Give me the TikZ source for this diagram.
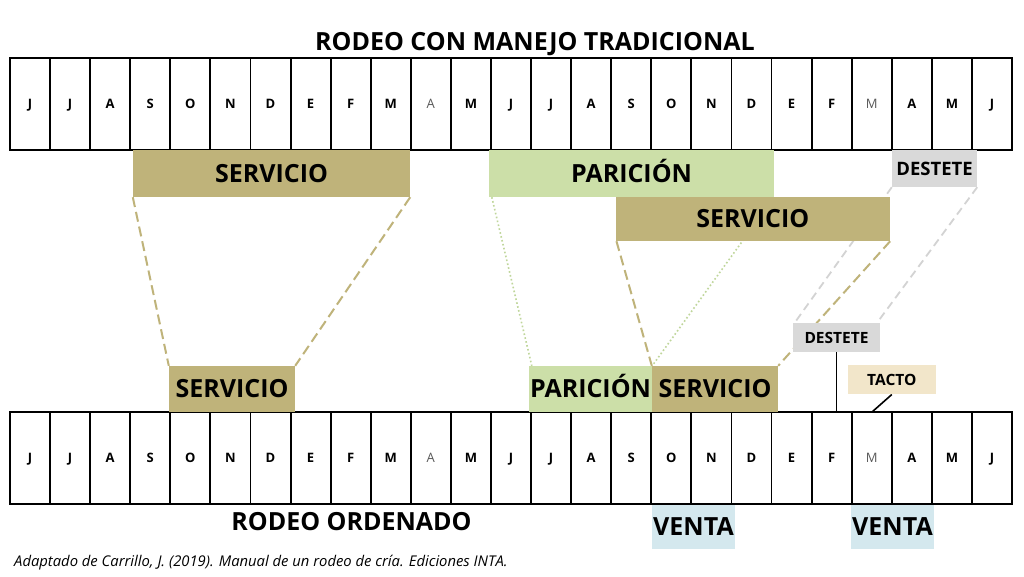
\documentclass[tikz,border=0pt]{standalone}
\usepackage{fontspec}
\setmainfont{Open Sans}
\definecolor{serv}{HTML}{BFB37A}
\definecolor{pari}{HTML}{CCDFA8}
\definecolor{pariline}{HTML}{BFD69A}
\definecolor{dest}{HTML}{D9D9D9}
\definecolor{destline}{HTML}{D3D3D3}
\definecolor{tacto}{HTML}{F2E6CA}
\definecolor{venta}{HTML}{D4E8EE}
\pgfdeclarelayer{bg}
\pgfdeclarelayer{lines}
\pgfsetlayers{bg,lines,main}
\begin{document}
\begin{tikzpicture}[x=1pt,y=-1pt,
  lab/.style={rectangle, inner sep=0pt, text depth=0pt, align=center},
  cellb/.style={draw=black, line width=1.9pt, minimum width=40.08pt, minimum height=92pt, inner sep=0pt,
    font=\bfseries\fontsize{13}{15}\selectfont, text height=9.3pt, text depth=0pt},
  celll/.style={cellb, font=\fontsize{13}{15}\selectfont, text=black!65},
  big/.style={lab, font=\bfseries\fontsize{25}{30}\selectfont, text height=17.85pt},
  small/.style={lab, font=\bfseries\fontsize{15.5}{18}\selectfont, text height=11.07pt},
  mid/.style={lab, font=\bfseries\fontsize{18.5}{22}\selectfont, text height=13.2pt},
  tanline/.style={draw=serv, line width=2pt, dash pattern=on 10pt off 5pt},
  greenline/.style={draw=pariline, line width=1.6pt, dash pattern=on 1.6pt off 2.4pt},
  grayline/.style={draw=destline, line width=1.8pt, dash pattern=on 8pt off 5pt},
  blackline/.style={draw=black, line width=1.6pt}]
\begin{pgfonlayer}{bg}
\fill[white] (0,0) rectangle (1024,576);
\end{pgfonlayer}
\useasboundingbox (0,0) rectangle (1024,576);

% title
\node[big] (title) at (535,42) {RODEO CON MANEJO TRADICIONAL};

% month rows
\foreach \m/\w [count=\i from 0] in {J/cellb,J/cellb,A/cellb,S/cellb,O/cellb,N/cellb,D/cellb,E/cellb,F/cellb,M/cellb,A/celll,M/cellb,J/cellb,J/cellb,A/cellb,S/cellb,O/cellb,N/cellb,D/cellb,E/cellb,F/cellb,M/celll,A/cellb,M/cellb,J/cellb}{
  \node[\w] (t\i) at ({30.04+\i*40.08},104) {\m};
  \node[\w] (b\i) at ({30.04+\i*40.08},458) {\m};
}

% top bars
\node[big, fill=serv, minimum width=277pt, minimum height=47pt] (s1) at (271.5,173.5) {SERVICIO};
\node[big, fill=pari, minimum width=285pt, minimum height=47pt] (p1) at (631.5,173.5) {PARICIÓN};
\node[big, fill=serv, minimum width=274.3pt, minimum height=44pt] (s2) at (752.8,219) {SERVICIO};
\node[mid, fill=dest, minimum width=85pt, minimum height=37pt] (d1) at (934.5,168.5) {DESTETE};

% bottom bars
\node[big, fill=serv, minimum width=126pt, minimum height=46pt] (s3) at (232,389) {SERVICIO};
\node[big, fill=pari, minimum width=123pt, minimum height=46pt] (p2) at (590.5,389) {PARICIÓN};
\node[big, fill=serv, minimum width=126pt, minimum height=46pt] (s4) at (715,389) {SERVICIO};
\node[small, fill=dest, minimum width=87pt, minimum height=29.5pt] (d2) at (836.5,337.5) {DESTETE};
\node[small, fill=tacto, minimum width=88pt, minimum height=29pt] (tk) at (891.8,379.8) {TACTO};
\node[big, fill=venta, minimum width=83pt, minimum height=44pt] (v1) at (693.5,527) {VENTA};
\node[big, fill=venta, minimum width=83pt, minimum height=44pt] (v2) at (892.5,527) {VENTA};

\node[big] (rord) at (351.5,522) {RODEO ORDENADO};
\node[anchor=base west, inner sep=0pt, font=\itshape\fontsize{14.8}{17}\selectfont] (cap) at (14,566)
  {Adaptado de Carrillo, J. (2019). Manual de un rodeo de cría. Ediciones INTA.};

\coordinate (tkend) at (872,412);

\begin{pgfonlayer}{lines}
\draw[tanline] (s1.south west) -- (s3.north west);
\draw[tanline] (s1.south east) -- (s3.north east);
\draw[greenline] ([xshift=3pt]p1.south west) -- ([xshift=3pt]p2.north west);
\draw[greenline] (p1.south east) -- (p2.north east);
\draw[tanline] ([xshift=1pt]s2.south west) -- (s4.north west);
\draw[tanline] (s2.south east) -- (s4.north east);
\draw[grayline] (d1.south west) -- ([xshift=2pt]d2.north west);
\draw[grayline] (d1.south east) -- ([xshift=-3pt]d2.north east);
\draw[blackline] (d2.south) -- (d2.south |- b20.north);
\draw[blackline] (tk.south) -- (tkend);
\end{pgfonlayer}
\end{tikzpicture}
\end{document}
